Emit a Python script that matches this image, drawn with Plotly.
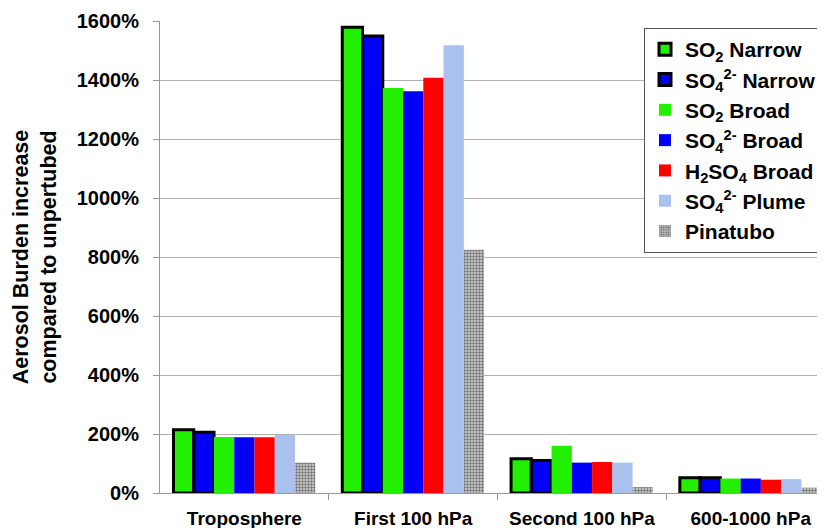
import plotly.graph_objects as go

categories = ["Troposphere", "First 100 hPa", "Second 100 hPa", "600-1000 hPa"]
series_names = [
    "SO<sub>2</sub> Narrow",
    "SO<sub>4</sub><sup>2-</sup> Narrow",
    "SO<sub>2</sub> Broad",
    "SO<sub>4</sub><sup>2-</sup> Broad",
    "H<sub>2</sub>SO<sub>4</sub> Broad",
    "SO<sub>4</sub><sup>2-</sup> Plume",
    "Pinatubo",
]
so2_narrow = [214, 1579, 116, 52]
so4_narrow = [206, 1549, 110, 52]
so2_broad = [190, 1373, 160, 49]
so4_broad = [189, 1362, 103, 49]
h2so4_broad = [189, 1408, 105, 45]
so4_plume = [197, 1518, 103, 47]
pinatubo = [103, 825, 20, 18]
y_ticks = [0, 200, 400, 600, 800, 1000, 1200, 1400, 1600]
y_tick_labels = ["0%", "200%", "400%", "600%", "800%", "1000%", "1200%", "1400%", "1600%"]

values = [so2_narrow, so4_narrow, so2_broad, so4_broad, h2so4_broad, so4_plume, pinatubo]
colors = ["#22f000", "#0000f8", "#22f000", "#0000f8", "#ff0000", "#a9c1ec", "#c8c8c8"]
outlined = [True, True, False, False, False, False, False]

FAM = "Liberation Sans, Arial, sans-serif"
x = list(range(len(categories)))
fig = go.Figure()
for name, vals, col, ol in zip(series_names, values, colors, outlined):
    marker = dict(color=col, line=dict(color="black" if ol else col, width=3 if ol else 0))
    if name == "Pinatubo":
        marker["pattern"] = dict(shape=".", fgcolor="#707070", bgcolor="#d6d6d6",
                                 size=3, solidity=0.5, fillmode="replace")
        marker["line"] = dict(width=0)
    fig.add_trace(go.Bar(x=x, y=vals, name=name, marker=marker))

fig.update_layout(
    width=817, height=520,
    margin=dict(l=152, r=0, t=13, b=35),
    paper_bgcolor="white", plot_bgcolor="white",
    barmode="group", bargap=0.16, bargroupgap=0,
    font=dict(family=FAM, size=19, color="black", weight="bold"),
    legend=dict(x=0.9955, y=0.985, xanchor="right", yanchor="top",
                bordercolor="#555", borderwidth=1, bgcolor="white",
                font=dict(size=21, family=FAM, weight="bold", color="black"),
                itemwidth=30, tracegroupgap=0),
    xaxis=dict(range=[-0.5, 3.44], tickvals=x, ticktext=categories, ticks="",
               showline=True, linecolor="#999", linewidth=1, showgrid=False,
               minor=dict(tickvals=[0.5, 1.5, 2.5], ticks="outside", ticklen=6, tickcolor="#999"),
               tickfont=dict(size=19, family=FAM, weight="bold"), zeroline=False,
               ticklabelstandoff=8),
    yaxis=dict(range=[0, 1600], tickmode="array", tickvals=y_ticks, ticktext=y_tick_labels,
               ticks="outside", ticklen=6, tickcolor="#999",
               showgrid=True, gridcolor="#b0b0b0", gridwidth=1,
               showline=True, linecolor="#999", linewidth=1, zeroline=False,
               tickfont=dict(size=20, family=FAM, weight="bold"), ticklabelstandoff=10,
               title=dict(text="Aerosol Burden increase<br>compared to unpertubed",
                          font=dict(size=21.5, family=FAM, weight="bold"), standoff=14)),
)
fig.write_html("out.html")
